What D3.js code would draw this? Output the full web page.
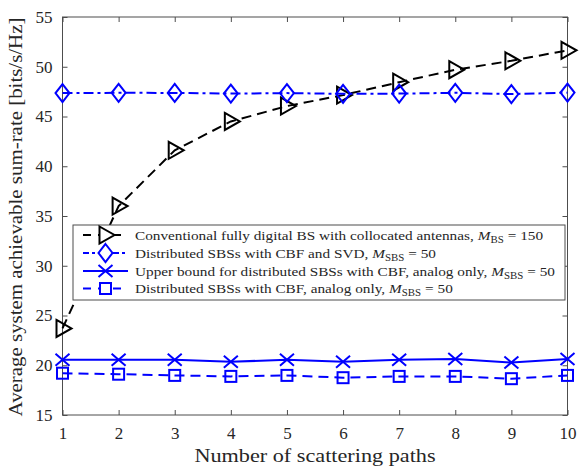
<!DOCTYPE html>
<html>
<head>
<meta charset="utf-8">
<script src="https://cdn.jsdelivr.net/npm/d3@7"></script>
<style>
  body { margin: 0; background: #fff; }
  text { font-family: "Liberation Serif", "DejaVu Serif", serif; fill: #262626; }
</style>
</head>
<body>
<div id="chart"></div>
<script>
// data
var paths = [1, 2, 3, 4, 5, 6, 7, 8, 9, 10];
var conventional = [23.7, 36.0, 41.6, 44.5, 46.05, 47.15, 48.45, 49.7, 50.6, 51.65];
var cbfSvd = [47.35, 47.38, 47.37, 47.3, 47.35, 47.28, 47.3, 47.38, 47.25, 47.4];
var upperBound = [20.55, 20.55, 20.55, 20.35, 20.55, 20.35, 20.55, 20.62, 20.28, 20.62];
var analogOnly = [19.2, 19.1, 18.98, 18.88, 18.98, 18.75, 18.88, 18.88, 18.65, 18.98];
var yTicks = [15, 20, 25, 30, 35, 40, 45, 50, 55];

var width = 579, height = 472;
var margin = {left: 62.5, right: 11.5, top: 17, bottom: 57};
var innerWidth = width - margin.left - margin.right;
var innerHeight = height - margin.top - margin.bottom;

var series = [
  {name: "Conventional fully digital BS with collocated antennas,", sub: "BS", val: "150",
   values: conventional, color: "#000", dash: "10,6", marker: "triangle"},
  {name: "Distributed SBSs with CBF and SVD,", sub: "SBS", val: "50",
   values: cbfSvd, color: "#0000ff", dash: "10,4,3,4", marker: "diamond"},
  {name: "Upper bound for distributed SBSs with CBF, analog only,", sub: "SBS", val: "50",
   values: upperBound, color: "#0000ff", dash: null, marker: "cross"},
  {name: "Distributed SBSs with CBF, analog only,", sub: "SBS", val: "50",
   values: analogOnly, color: "#0000ff", dash: "10,6", marker: "square"}
];

var svg = d3.select('#chart').append('svg')
  .attr('width', width).attr('height', height);

var g = svg.append('g')
  .attr('transform', `translate(${margin.left},${margin.top})`);

var xScale = d3.scaleLinear().domain([1, 10]).range([0, innerWidth]);
var yScale = d3.scaleLinear().domain([15, 55]).range([innerHeight, 0]);

// frame + inward ticks (matlab style)
var axisColor = "#4d4d4d";
g.append('rect').attr('width', innerWidth).attr('height', innerHeight)
  .attr('fill', 'none').attr('stroke', axisColor).attr('stroke-width', 1);

var xb = g.append('g').attr('transform', `translate(0,${innerHeight})`)
  .call(d3.axisBottom(xScale).tickValues(paths).tickSize(-5).tickPadding(12).tickFormat(d3.format('d')));
var xt = g.append('g')
  .call(d3.axisTop(xScale).tickValues(paths).tickSize(-5));
var yl = g.append('g')
  .call(d3.axisLeft(yScale).tickValues(yTicks).tickSize(-5).tickPadding(10));
var yr = g.append('g').attr('transform', `translate(${innerWidth},0)`)
  .call(d3.axisRight(yScale).tickValues(yTicks).tickSize(-5));
// top and right axes only carry tick marks
xt.selectAll('text').remove();
yr.selectAll('text').remove();
[xb, xt, yl, yr].forEach(function(a) {
  a.select('.domain').remove();
  a.selectAll('line').attr('stroke', axisColor);
  a.selectAll('text').attr('font-size', 17).attr('fill', '#262626')
    .style('font-family', '"Liberation Serif", serif');
});

// lines
var line = d3.line()
  .x((d, i) => xScale(paths[i]))
  .y(d => yScale(d));

function drawMarker(sel, type, color) {
  if (type === 'triangle') {
    sel.append('path').attr('d', 'M-6,-8.5 L9,0 L-6,8.5 Z');
  } else if (type === 'diamond') {
    sel.append('path').attr('d', 'M0,-9 L7,0 L0,9 L-7,0 Z');
  } else if (type === 'cross') {
    sel.append('path').attr('d', 'M-7,-6 L7,6 M-7,6 L7,-6');
  } else if (type === 'square') {
    sel.append('rect').attr('x', -5.5).attr('y', -5.5).attr('width', 11).attr('height', 11);
  }
  sel.selectAll('path,rect').attr('fill', 'none').attr('stroke', color).attr('stroke-width', 2);
}

var sg = g.append('g').selectAll('g').data(series).join('g');
sg.append('path')
  .attr('d', d => line(d.values))
  .attr('fill', 'none')
  .attr('stroke', d => d.color)
  .attr('stroke-width', 2)
  .attr('stroke-dasharray', d => d.dash);
sg.each(function(s) {
  d3.select(this).selectAll('g.m').data(s.values).join('g')
    .attr('class', 'm')
    .attr('transform', (d, i) => `translate(${xScale(paths[i])},${yScale(d)})`)
    .each(function() { drawMarker(d3.select(this), s.marker, s.color); });
});

// legend
var lgX = 73, lgY = 225;
svg.append('rect').attr('x', lgX).attr('y', lgY).attr('width', 492).attr('height', 75)
  .attr('fill', '#fff').attr('stroke', axisColor).attr('stroke-width', 1);
var rowY = [10, 28, 46, 63.5];
var items = svg.selectAll('g.item').data(series).join('g')
  .attr('class', 'item');
items.append('line')
  .attr('x1', lgX + 10).attr('x2', lgX + 55)
  .attr('y1', (d, i) => lgY + rowY[i]).attr('y2', (d, i) => lgY + rowY[i])
  .attr('stroke', d => d.color).attr('stroke-width', 2)
  .attr('stroke-dasharray', d => d.dash ? (d.marker === 'diamond' ? '6,3,3,3' : '8,7') : null);
items.each(function(s, i) {
  var m = d3.select(this).append('g')
    .attr('transform', `translate(${lgX + 32.5},${lgY + rowY[i]})`);
  drawMarker(m, s.marker, s.color);
  m.selectAll('path,rect').attr('fill', '#fff');
});

// legend labels: plain text pieces placed one after the other,
// stretched a bit so they take the room of the LaTeX font
var sx = 1.14;
items.each(function(s, i) {
  var row = d3.select(this);
  var x = lgX + 62;
  var base = lgY + rowY[i] + 4.5;
  function piece(str, size, dy, italic) {
    var t = row.append('text')
      .attr('x', x).attr('y', base + dy)
      .attr('font-size', size)
      .attr('font-style', italic ? 'italic' : null)
      .text(str);
    var w = t.node().getComputedTextLength() * sx;
    t.attr('textLength', w).attr('lengthAdjust', 'spacingAndGlyphs');
    x += w;
  }
  piece(s.name, 13.4, 0, false);
  x += 4;
  piece('M', 13.4, 0, true);
  piece(s.sub, 9.5, 3, false);
  x += 4;
  piece('= ' + s.val, 13.4, 0, false);
});

// axis labels
svg.append('text')
  .attr('transform', `translate(${margin.left + innerWidth / 2},462) scale(1.17,1)`)
  .attr('text-anchor', 'middle').attr('font-size', 19)
  .text('Number of scattering paths');
svg.append('text')
  .attr('transform', `translate(22,${margin.top + innerHeight / 2 + 1}) rotate(-90) scale(1.1,1)`)
  .attr('text-anchor', 'middle').attr('font-size', 19)
  .text('Average system achievable sum-rate [bits/s/Hz]');
</script>
</body>
</html>
